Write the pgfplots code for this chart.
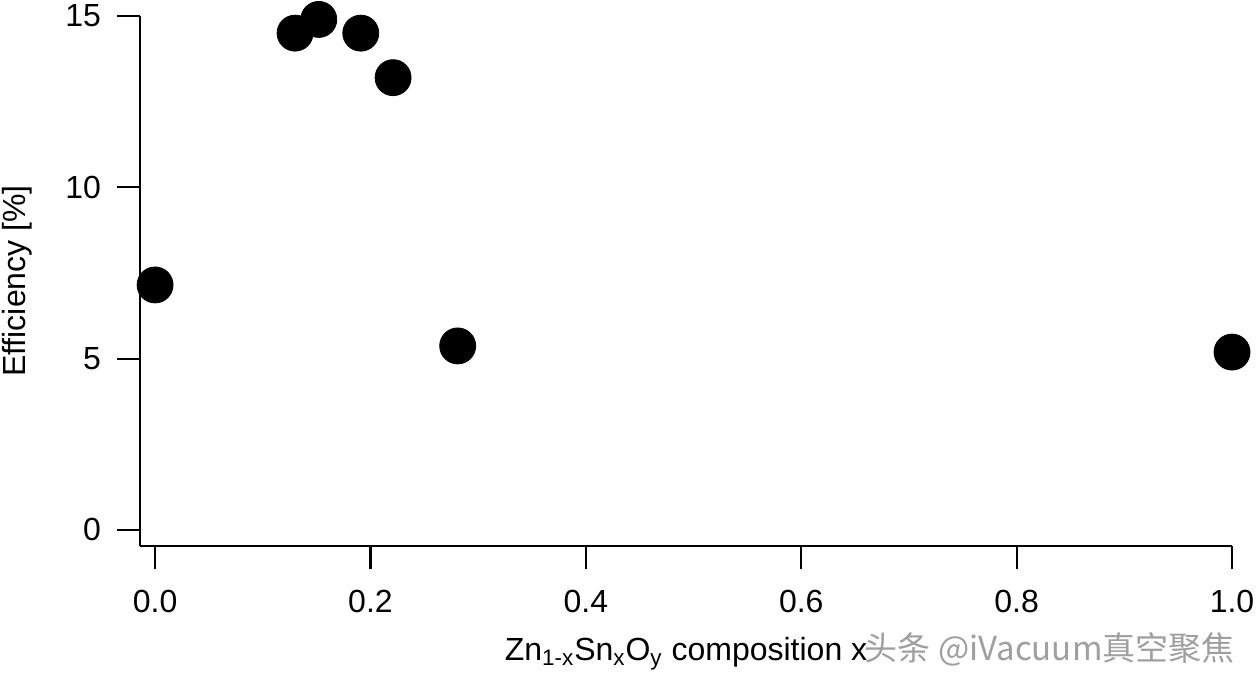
\documentclass[border=0pt]{standalone}
\usepackage{fontspec}
\setmainfont{Liberation Sans}
\newfontfamily\cjk{Noto Sans CJK SC}
\usepackage{pgfplots}
\pgfplotsset{compat=1.18}
\begin{document}
\begin{tikzpicture}
\begin{axis}[
  scale only axis, width=546pt, height=265pt,
  xmin=-0.014, xmax=1.0, ymin=-0.47, ymax=15,
  axis x line*=bottom, axis y line*=left,
  axis line style={line width=1.1pt, -},
  clip=false,
  xtick={0,0.2,0.4,0.6,0.8,1.0},
  xticklabels={0.0,0.2,0.4,0.6,0.8,1.0},
  ytick={0,5,10,15},
  tick align=outside, major tick length=11.5pt,
  tick style={line width=1.1pt, black},
  ticklabel style={font=\fontsize{16}{19}\selectfont},
  xticklabel style={yshift=-7pt},
  yticklabel style={xshift=-4.5pt},
  /pgf/number format/assume math mode=true,
  xlabel={Zn\textsubscript{1-x}Sn\textsubscript{x}O\textsubscript{y} composition x},
  ylabel={Efficiency [\%]},
  label style={font=\fontsize{16}{19}\selectfont},
  ylabel style={at={(axis description cs:-0.0925,0.5)}, anchor=south},
  xlabel style={at={(axis description cs:0.5,0)}, anchor=north, yshift=-42pt},
]
\addplot[only marks, mark=*, mark size=9pt, black] coordinates {
  (0.00,7.15) (0.13,14.5) (0.152,14.9) (0.191,14.5) (0.221,13.2) (0.281,5.37) (1.0,5.19)
};
\node[font=\cjk\fontsize{16.5}{19}\selectfont, text=gray!75] at (rel axis cs:0.833,-0.196) {头条 @iVacuum真空聚焦};
\end{axis}
\pgfresetboundingbox
\path[use as bounding box] (current axis.south west) ++(-70pt,-65pt) rectangle ++(628pt,338pt);
\end{tikzpicture}
\end{document}
